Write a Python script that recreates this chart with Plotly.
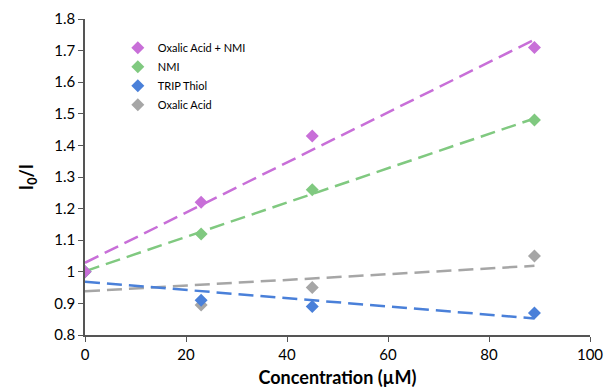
import numpy as np
import plotly.graph_objects as go

conc = [0, 23, 45, 89]
names = ["Oxalic Acid + NMI", "NMI", "TRIP Thiol", "Oxalic Acid"]
oxalic_nmi = [1.0, 1.22, 1.43, 1.71]
nmi = [1.0, 1.12, 1.26, 1.48]
trip = [1.0, 0.91, 0.89, 0.87]
oxalic = [1.0, 0.895, 0.95, 1.05]
colors = ["#C86FD8", "#80C980", "#4A80D9", "#A6A6A6"]
x_ticks = [0, 20, 40, 60, 80, 100]
y_ticks = [0.8, 0.9, 1.0, 1.1, 1.2, 1.3, 1.4, 1.5, 1.6, 1.7, 1.8]
y_tick_text = ["0.8", "0.9", "1", "1.1", "1.2", "1.3", "1.4", "1.5", "1.6", "1.7", "1.8"]

series = [oxalic_nmi, nmi, trip, oxalic]

fig = go.Figure()
xs = np.array(conc, dtype=float)
for i in reversed(range(4)):
    ys = np.array(series[i])
    m, b = np.polyfit(xs, ys, 1)
    xl = [xs.min(), xs.max()]
    fig.add_trace(go.Scatter(x=xl, y=[m * v + b for v in xl], mode="lines",
                             line=dict(color=colors[i], width=2.5, dash="15px,7px"),
                             showlegend=False, hoverinfo="skip"))
for i in reversed(range(4)):
    fig.add_trace(go.Scatter(x=conc, y=series[i], mode="markers", name=names[i],
                             marker=dict(symbol="diamond", size=10, color=colors[i]),
                             legendrank=i + 1))

fig.update_layout(
    width=607, height=392,
    margin=dict(l=85, r=17, t=19, b=57),
    paper_bgcolor="white", plot_bgcolor="white",
    font=dict(family="Lato, sans-serif", color="#000"),
    showlegend=True,
    legend=dict(x=0.065, y=0.955, xanchor="left", yanchor="top",
                font=dict(size=11, color="#000"), bgcolor="rgba(0,0,0,0)",
                itemsizing="trace", tracegroupgap=0, itemwidth=30),
    xaxis=dict(range=[0, 100], tickvals=x_ticks, showgrid=False, zeroline=False,
               showline=True, linecolor="#555", linewidth=1.5, automargin=False,
               ticks="outside", ticklen=5, tickcolor="#555",
               tickfont=dict(size=15), title=dict(text="<b>Concentration (µM)</b>",
                                                 font=dict(size=18), standoff=10)),
    yaxis=dict(range=[0.8, 1.8], tickvals=y_ticks, ticktext=y_tick_text,
               showgrid=False, zeroline=False, automargin=False,
               showline=True, linecolor="#555", linewidth=1.5,
               ticks="outside", ticklen=5, tickcolor="#555",
               tickfont=dict(size=15), title=dict(text="<b>I<sub>0</sub>/I</b>",
                                                 font=dict(size=18), standoff=16)),
)
fig.write_html("out.html")
